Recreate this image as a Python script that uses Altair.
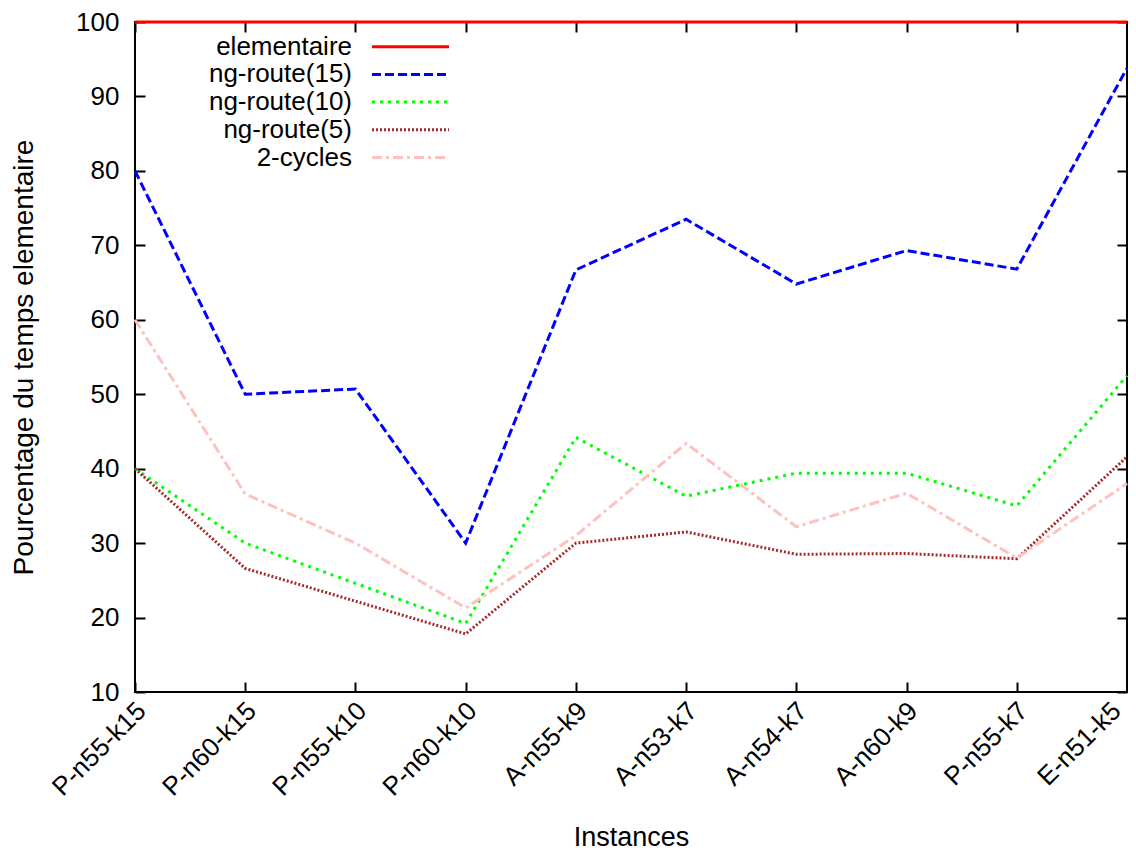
import altair as alt
import pandas as pd

instances = ["P-n55-k15", "P-n60-k15", "P-n55-k10", "P-n60-k10", "A-n55-k9",
             "A-n53-k7", "A-n54-k7", "A-n60-k9", "P-n55-k7", "E-n51-k5"]
series_names = ["elementaire", "ng-route(15)", "ng-route(10)", "ng-route(5)", "2-cycles"]
elementaire = [100, 100, 100, 100, 100, 100, 100, 100, 100, 100]
ng15 = [80, 50, 50.7, 30, 66.7, 73.5, 64.8, 69.3, 66.8, 93.8]
ng10 = [40, 30, 24.6, 19.2, 44.2, 36.3, 39.4, 39.4, 35, 52.5]
ng5 = [40, 26.6, 22.2, 17.8, 30, 31.5, 28.5, 28.6, 27.9, 41.6]
cyc2 = [60, 36.6, 30, 21.3, 31, 43.4, 32.2, 36.7, 28, 38]
y_ticks = [10, 20, 30, 40, 50, 60, 70, 80, 90, 100]

colors = ["#ff0000", "#0000ff", "#00ff00", "#a52a2a", "#ffc0c0"]
dashes = [[1, 0], [9, 4], [3, 5], [2, 2], [10, 4, 3, 4]]
widths = [3, 3, 3, 2.5, 3.5]

rows = []
for name, vals in zip(series_names, [elementaire, ng15, ng10, ng5, cyc2]):
    for inst, v in zip(instances, vals):
        rows.append({"instance": inst, "value": v, "series": name})
df = pd.DataFrame(rows)
df_leg = pd.DataFrame({"series": series_names, "idx": list(range(len(series_names)))})

FONT = "Liberation Sans"
FS_TICK = 26
FS_LEG = 26

color_s = alt.Scale(domain=series_names, range=colors)
dash_s = alt.Scale(domain=series_names, range=dashes)
width_s = alt.Scale(domain=series_names, range=widths)
x_s = alt.Scale(domain=instances, padding=0)
y_s = alt.Scale(domain=[10, 100], nice=False, zero=False)

W, H = 992, 670
PAD_L, PAD_T = 127, 14

main = alt.Chart(df).mark_line(clip=False).encode(
    x=alt.X("instance:N", sort=instances, scale=x_s,
            axis=alt.Axis(orient="bottom", domain=False, ticks=False, grid=False,
                          labelAngle=-45, labelAlign="right", labelBaseline="alphabetic",
                          labelPadding=20,
                          labelOffset={"condition": {"test": "datum.value === 'E-n51-k5'", "value": -5},
                                       "value": 12},
                          labelFontSize=FS_TICK, labelFont=FONT,
                          labelColor="black", labelOverlap=False, labelBound=False,
                          title="Instances", titleFont=FONT, titleFontSize=27,
                          titleFontWeight="normal", titleColor="black",
                          titleX=W / 2, titleY=145, titleBaseline="middle", titleAlign="center")),
    y=alt.Y("value:Q", scale=y_s,
            axis=alt.Axis(orient="left", values=y_ticks, domain=False, ticks=False, grid=False,
                          labelPadding=16, labelFontSize=FS_TICK, labelFont=FONT, labelColor="black",
                          title="Pourcentage du temps elementaire", titleFont=FONT,
                          titleFontSize=28, titleFontWeight="normal", titleColor="black",
                          titleX=-111, titleY=335, titleAngle=270, titleBaseline="middle",
                          titleAlign="center")),
    color=alt.Color("series:N", scale=color_s, legend=None),
    strokeDash=alt.StrokeDash("series:N", scale=dash_s, legend=None),
    strokeWidth=alt.StrokeWidth("series:N", scale=width_s, legend=None),
    detail="series:N",
)

tick_axis = dict(domain=False, ticks=True, tickSize=10, tickWidth=2, tickColor="black",
                 labels=False, grid=False, title=None, offset=-10)

ticks_bl = alt.Chart(df).mark_point(opacity=0).encode(
    x=alt.X("instance:N", sort=instances, scale=x_s, axis=alt.Axis(orient="bottom", **tick_axis)),
    y=alt.Y("value:Q", scale=y_s, axis=alt.Axis(orient="left", values=y_ticks, **tick_axis)),
)
ticks_tr = alt.Chart(df).mark_point(opacity=0).encode(
    x=alt.X("instance:N", sort=instances, scale=x_s, axis=alt.Axis(orient="top", **tick_axis)),
    y=alt.Y("value:Q", scale=y_s, axis=alt.Axis(orient="right", values=y_ticks, **tick_axis)),
)

leg_base = alt.Chart(df_leg).transform_calculate(ly="24.7 + datum.idx * 27.7")
leg_text = leg_base.mark_text(align="right", baseline="middle", font=FONT, fontSize=FS_LEG,
                              color="black").encode(
    x=alt.value(217),
    y=alt.Y("ly:Q", scale=None, axis=None),
    text="series:N",
)
leg_rule = leg_base.mark_rule().encode(
    x=alt.value(237), x2=alt.value(314),
    y=alt.Y("ly:Q", scale=None, axis=None),
    color=alt.Color("series:N", scale=color_s, legend=None),
    strokeDash=alt.StrokeDash("series:N", scale=dash_s, legend=None),
    strokeWidth=alt.StrokeWidth("series:N", scale=width_s, legend=None),
)

chart = alt.layer(ticks_bl, ticks_tr, main, leg_text, leg_rule).resolve_axis(
    x="independent", y="independent"
).properties(
    width=W, height=H,
    autosize=alt.AutoSizeParams(type="none"),
    padding={"left": PAD_L, "top": PAD_T, "right": 1, "bottom": 159},
    background="white",
).configure_view(stroke="black", strokeWidth=2)

chart.save("out.html", embed_options={"renderer": "svg", "actions": False})
